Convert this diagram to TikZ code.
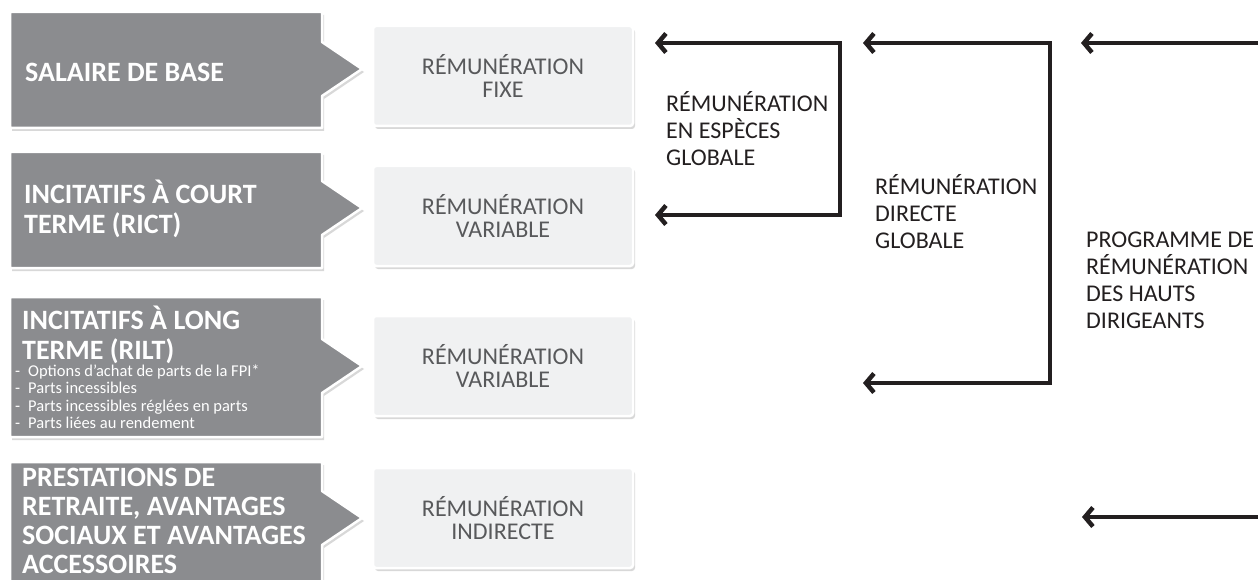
\documentclass[tikz,border=0pt]{standalone}
\usepackage{fontspec}
\setmainfont{Carlito}
\usetikzlibrary{arrows.meta,positioning,shadows}
\definecolor{tabgray}{RGB}{139,140,143}
\definecolor{boxgray}{RGB}{240,241,242}
\definecolor{boxtext}{RGB}{88,89,91}
\definecolor{inkblack}{RGB}{35,31,32}

\begin{document}
\begin{tikzpicture}[x=1pt,y=-1pt,
  tab/.style={fill=tabgray,draw=white,line width=2.5pt,line join=round,
    drop shadow={shadow xshift=2pt,shadow yshift=-3pt,fill=black!30,opacity=0.5}},
  tabtext/.style={text=white,font=\fontsize{28}{29.5}\selectfont\bfseries,align=left,inner sep=0pt},
  kind/.style={rectangle,rounded corners=3pt,fill=boxgray,draw=white,line width=2.5pt,
    minimum width=260pt,minimum height=100pt,text=boxtext,align=center,
    font=\fontsize{24}{22.5}\selectfont,
    drop shadow={shadow xshift=2pt,shadow yshift=-3pt,fill=black!30,opacity=0.5}},
  sumlabel/.style={anchor=north west,align=left,inner sep=0pt,text=inkblack,
    font=\fontsize{24}{27}\selectfont},
  bracket/.style={draw=inkblack,line width=4.5pt,line join=miter,
    {Straight Barb[length=8pt,width=19pt]}-{Straight Barb[length=8pt,width=19pt]}},
  feed/.style={draw=inkblack,line width=4.5pt,{Straight Barb[length=8pt,width=19pt]}-}]
\useasboundingbox (0,0) rectangle (1258,580);
\clip (0,0) rectangle (1258,580);

% Components (dark tabs)
\foreach \ya/\yb/\yt in {12/128/69,152/268/208,297/437/366,462/595/518} {
    \draw[tab] (10,\ya) -- (322,\ya) -- (322,{\yt-27}) -- (362,\yt)
        -- (322,{\yt+27}) -- (322,\yb) -- (10,\yb) -- cycle;
}
\node[tabtext,anchor=west] (salaire) at (25,72) {SALAIRE DE BASE};
\node[tabtext,anchor=west] (rict) at (24,209) {INCITATIFS À COURT\\TERME (RICT)};
\node[tabtext,anchor=north west] (rilt) at (22,306) {INCITATIFS À LONG\\TERME (RILT)};
\node[below right=1pt and -7pt of rilt.south west,inner sep=0pt,text=white,align=left,
    font=\fontsize{16.5}{17.4}\selectfont] (riltlist) {%
    \makebox[13pt][l]{-}Options d’achat de parts de la FPI*\\
    \makebox[13pt][l]{-}Parts incessibles\\
    \makebox[13pt][l]{-}Parts incessibles réglées en parts\\
    \makebox[13pt][l]{-}Parts liées au rendement};
\node[tabtext,anchor=west,font=\fontsize{28}{29}\selectfont\bfseries] (retraite) at (22,521)
    {PRESTATIONS DE\\RETRAITE, AVANTAGES\\SOCIAUX ET AVANTAGES\\ACCESSOIRES};

% Kinds of pay
\node[kind] (fixe) at (503,76) {RÉMUNÉRATION\\FIXE};
\node[kind] (varcourt) at (503,216) {RÉMUNÉRATION\\VARIABLE};
\node[kind] (varlong) at (503,366) {RÉMUNÉRATION\\VARIABLE};
\node[kind] (indirecte) at (503,518) {RÉMUNÉRATION\\INDIRECTE};

% Brackets
\coordinate (especes-top) at (655,43);
\coordinate (especes-a) at (840,43);
\coordinate (especes-b) at (840,215);
\coordinate (especes-bot) at (655,215);
\draw[bracket] (especes-top) -- (especes-a) -- (especes-b) -- (especes-bot);

\coordinate (directe-top) at (863,43);
\coordinate (directe-a) at (1050,43);
\coordinate (directe-b) at (1050,383);
\coordinate (directe-bot) at (863,383);
\draw[bracket] (directe-top) -- (directe-a) -- (directe-b) -- (directe-bot);

\coordinate (programme-top) at (1081,43);
\coordinate (programme-a) at (1258,43);
\coordinate (programme-bot) at (1082,517);
\coordinate (programme-b) at (1258,517);
\draw[feed] (programme-top) -- (programme-a);
\draw[feed] (programme-bot) -- (programme-b);

% Labels
\node[sumlabel] (especes) at (666,91) {RÉMUNÉRATION\\EN ESPÈCES\\GLOBALE};
\node[sumlabel] (directe) at (875,174) {RÉMUNÉRATION\\DIRECTE\\GLOBALE};
\node[sumlabel] (programme) at (1086,232) {PROGRAMME DE\\RÉMUNÉRATION\\DES HAUTS\\DIRIGEANTS};
\end{tikzpicture}
\end{document}
